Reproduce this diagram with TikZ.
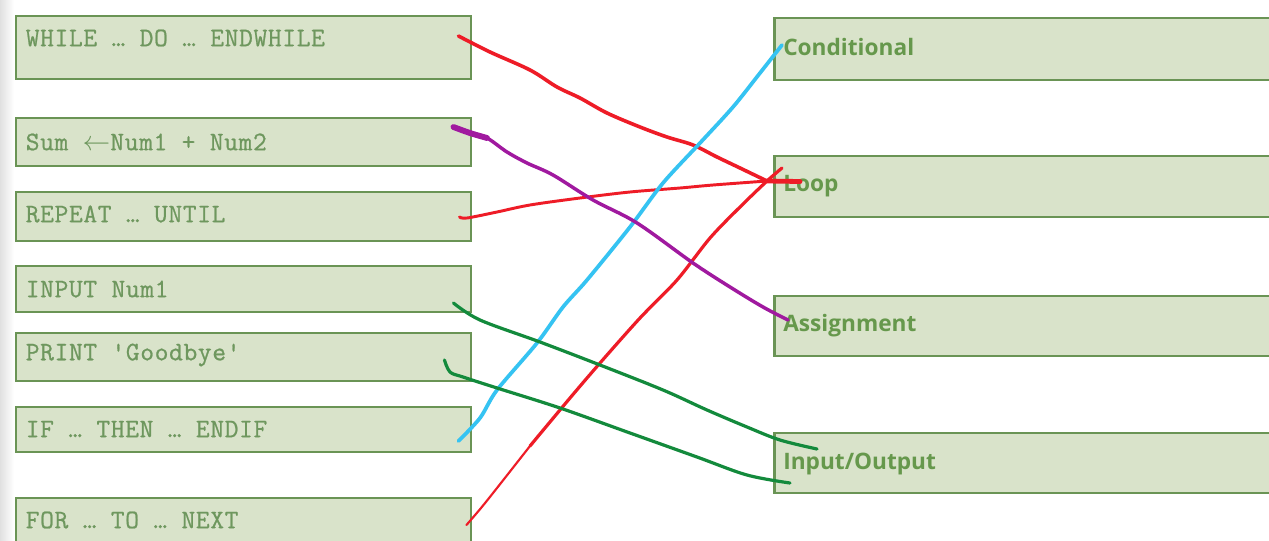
\documentclass[tikz,border=0pt]{standalone}
\usepackage{fontspec}
\setmainfont{Open Sans}
\newfontfamily\codefont{Latin Modern Mono}[LetterSpace=2.5, FakeBold=0.8]
\usetikzlibrary{calc}

\definecolor{boxfill}{HTML}{D9E3CA}
\definecolor{boxline}{HTML}{6A9455}
\definecolor{codetext}{HTML}{6E975E}
\definecolor{labeltext}{HTML}{66984C}
\definecolor{penred}{HTML}{EE1C27}
\definecolor{penblue}{HTML}{35C3F2}
\definecolor{penpurple}{HTML}{A0199F}
\definecolor{pengreen}{HTML}{138A3C}

\begin{document}
\begin{tikzpicture}[x=0.75pt,y=-0.75pt,
  codebox/.style={draw=boxline, line width=2.2pt, fill=boxfill, rectangle,
    minimum width=341.25pt, inner sep=0pt},
  namebox/.style={draw=boxline, line width=2.2pt, fill=boxfill, rectangle,
    minimum width=390pt, inner sep=0pt, anchor=west},
  codetxt/.style={anchor=west, inner sep=0pt, text=codetext,
    font=\codefont\fontsize{20}{22}\selectfont},
  nametxt/.style={anchor=west, inner sep=0pt, text=labeltext,
    font=\bfseries\fontsize{17}{20}\selectfont},
  pen/.style={line cap=round, line join=round},
  redpen/.style={pen, draw=penred, line width=2.5pt},
  bluepen/.style={pen, draw=penblue, line width=2.8pt},
  purplepen/.style={pen, draw=penpurple, line width=2.6pt},
  greenpen/.style={pen, draw=pengreen, line width=2.4pt}]

\clip (0,0) rectangle (1269,540);
\fill[white] (0,0) rectangle (1269,540);
\shade[left color=black!12, right color=white] (0,0) rectangle (14,540);

% statements
\node[codebox, minimum height=47.25pt] (b1) at (243.5,47.5) {};
\node[codebox, minimum height=36pt]    (b2) at (243.5,142) {};
\node[codebox, minimum height=36.75pt] (b3) at (243.5,216.5) {};
\node[codebox, minimum height=34.5pt]  (b4) at (243.5,289) {};
\node[codebox, minimum height=36pt]    (b5) at (243.5,357) {};
\node[codebox, minimum height=33.75pt] (b6) at (243.5,429.5) {};
\node[codebox, minimum height=36pt]    (b7) at (243.5,522) {};

\node[codetxt] (t1) at ($(b1.west)+(11,-9.5)$) {WHILE … DO … ENDWHILE};
\node[codetxt] (t2) at ($(b2.west)+(11,0)$) {Sum \ensuremath{\leftarrow}Num1 + Num2};
\node[codetxt] (t3) at ($(b3.west)+(11,-2.5)$) {REPEAT … UNTIL};
\node[codetxt] (t4) at ($(b4.west)+(11,0)$) {INPUT Num1};
\node[codetxt] (t5) at ($(b5.west)+(11,-2)$) {PRINT 'Goodbye'};
\node[codetxt] (t6) at ($(b6.west)+(11,-0.5)$) {IF … THEN … ENDIF};
\node[codetxt] (t7) at ($(b7.west)+(11,-2)$) {FOR … TO … NEXT};

% categories
\node[namebox, minimum height=46.5pt]  (cond) at (773,49) {};
\node[namebox, minimum height=45.75pt] (loop) at (773,186.5) {};
\node[namebox, minimum height=45pt]    (assign) at (773,326) {};
\node[namebox, minimum height=45pt]    (io) at (773,463) {};

\node[nametxt] (n1) at ($(cond.west)+(10,-2)$) {Conditional};
\node[nametxt] (n2) at ($(loop.west)+(10,0)$) {Loop};
\node[nametxt] (n3) at ($(assign.west)+(10,0)$) {Assignment};
\node[nametxt] (n4) at ($(io.west)+(10,1)$) {Input/Output};

% pen stroke end points
\coordinate (s1) at ($(b1.east)+(-14,-11.5)$);
\coordinate (s2) at ($(b2.east)+(-19,-15)$);
\coordinate (s3) at ($(b3.east)+(-13,0.5)$);
\coordinate (s4) at ($(b4.east)+(-19,14)$);
\coordinate (s5) at ($(b5.east)+(-28,3)$);
\coordinate (s6) at ($(b6.east)+(-14,11.5)$);
\coordinate (s7) at ($(b7.east)+(-6,3)$);
\coordinate (hub) at ($(loop.west)+(-6,-5.5)$);
\coordinate (loopmark) at ($(loop.west)+(27,-5)$);
\coordinate (forend) at ($(loop.west)+(9,-18.5)$);
\coordinate (e1) at ($(cond.west)+(9,-4)$);
\coordinate (e3) at ($(assign.west)+(15,-6)$);
\coordinate (e4) at ($(io.west)+(44,-14)$);
\coordinate (e5) at ($(io.west)+(17,20)$);

% WHILE -> Loop
\draw[redpen, line width=2.7pt] plot[smooth, tension=0.55] coordinates {(s1) (490,52) (530,70)
  (557,87) (580,98) (607,113) (640,127) (667,137) (693,145) (717,157) (740,168) (hub)};
\draw[redpen, line width=3.6pt] (hub) -- (loopmark);
% REPEAT -> Loop
\draw[redpen, line width=2.2pt] plot[smooth, tension=0.55] coordinates {(s3) (467,218) (497,212)
  (530,205) (580,198) (630,192) (680,188) (713,185) (hub)};
% FOR -> Loop
\draw[redpen, line width=1.6pt] plot[smooth, tension=0.5] coordinates {(s7) (481,508) (497,488)
  (530,446)};
\draw[redpen, line width=2.4pt] plot[smooth, tension=0.5] coordinates {(530,446) (570,398)
  (600,363) (640,318) (677,280) (710,238) (740,207) (hub) (forend)};
% IF -> Conditional
\draw[bluepen] plot[smooth, tension=0.5] coordinates {(s6) (480,418) (497,390) (537,343)
  (563,307) (587,280) (630,227) (663,183) (700,143) (733,107) (760,73) (e1)};
% assignment
\draw[purplepen] plot[smooth, tension=0.55] coordinates {(s2) (470,133) (487,138) (507,152)
  (527,163) (553,175) (593,200) (637,223) (693,263) (730,287) (763,307) (e3)};
\draw[purplepen, line width=4.4pt] plot[smooth, tension=0.55] coordinates {(s2) (470,133)
  (487,138)};
% INPUT / PRINT -> Input/Output
\draw[greenpen] plot[smooth, tension=0.55] coordinates {(s4) (480,320) (540,342) (600,365)
  (663,390) (707,410) (747,427) (780,440) (e4)};
\draw[greenpen] plot[smooth, tension=0.55] coordinates {(s5) (450,372) (463,377) (497,388)
  (560,408) (630,433) (697,457) (747,475) (e5)};
\end{tikzpicture}
\end{document}
